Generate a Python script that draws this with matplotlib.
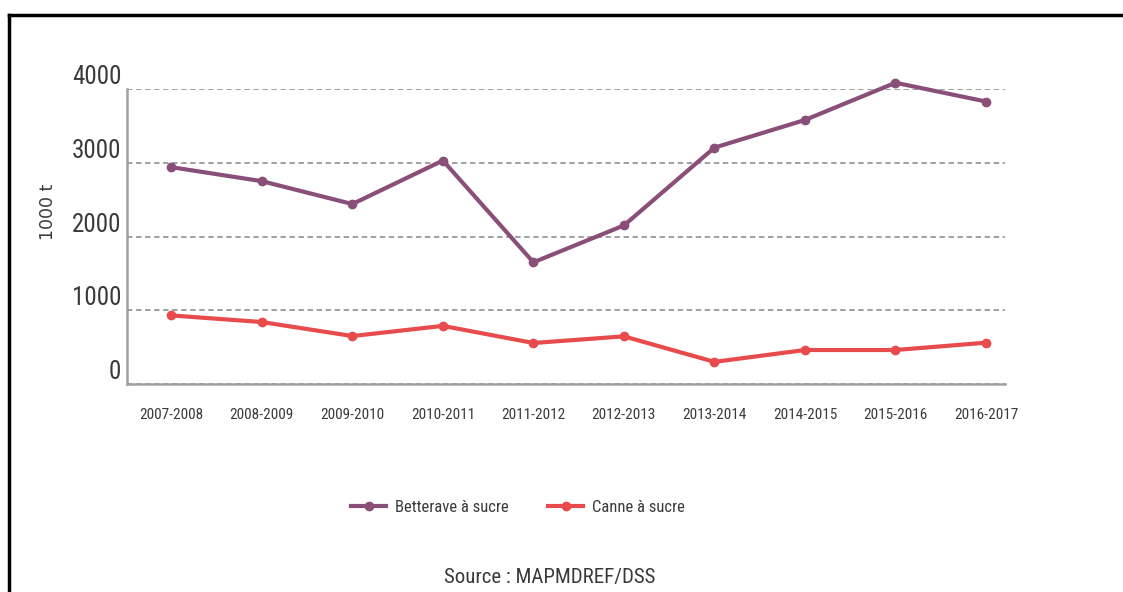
import matplotlib.pyplot as plt
from matplotlib.lines import Line2D
from matplotlib import font_manager

# Data (1000 t)
campagnes = ['2007-2008', '2008-2009', '2009-2010', '2010-2011', '2011-2012',
             '2012-2013', '2013-2014', '2014-2015', '2015-2016', '2016-2017']
betterave = [2940, 2750, 2440, 3030, 1650, 2150, 3205, 3580, 4085, 3830]
canne = [930, 840, 650, 788, 556, 646, 300, 461, 461, 560]
y_ticks = [0, 1000, 2000, 3000, 4000]

purple = '#8a4f78'
red = '#e84b4b'
text_col = '#3a3a3a'

# the original uses a condensed face; take the first narrow one installed
names = {f.name for f in font_manager.fontManager.ttflist}
narrow = 'DejaVu Sans'
for cand in ['Roboto Condensed', 'Liberation Sans Narrow', 'Open Sans Condensed']:
    if cand in names:
        narrow = cand
        break
plt.rcParams['font.family'] = [narrow, 'DejaVu Sans']

fig = plt.figure(figsize=(11.23, 5.92), dpi=100)
W, H = 1123, 592

# frame of the original page (top and left edges visible)
fig.add_artist(Line2D([9 / W, 9 / W], [0, 1 - 15 / H], color='black', lw=2.5,
                      transform=fig.transFigure))
fig.add_artist(Line2D([9 / W, 1], [1 - 15 / H, 1 - 15 / H], color='black', lw=2.5,
                      transform=fig.transFigure))

left, right, top, bottom = 127, 1005, 89, 384
ax = fig.add_axes([left / W, 1 - bottom / H, (right - left) / W, (bottom - top) / H])

x = list(range(len(campagnes)))
ax.plot(x, betterave, color=purple, lw=3, marker='o', ms=6, zorder=3,
        clip_on=False, label='Betterave à sucre')
ax.plot(x, canne, color=red, lw=3, marker='o', ms=6, zorder=3,
        clip_on=False, label='Canne à sucre')

ax.set_xlim(-0.49, 9.21)
ax.set_ylim(25, 4000)
ax.set_yticks(y_ticks)
ax.set_yticklabels([str(v) for v in y_ticks], fontsize=18, color=text_col,
                   va='bottom')
ax.set_xticks(x)
ax.set_xticklabels(campagnes, fontsize=11, color=text_col)
ax.tick_params(axis='y', length=0, pad=4)
ax.tick_params(axis='x', length=0, pad=17)

ax.grid(axis='y', color='#999999', linestyle=(0, (3, 2)), lw=1.3)
ax.set_axisbelow(True)
for s in ['top', 'right']:
    ax.spines[s].set_visible(False)
for s in ['left', 'bottom']:
    ax.spines[s].set_color('#a0a0a0')
    ax.spines[s].set_linewidth(1.8)

ax.set_ylabel('1000 t', fontsize=12.5, color=text_col, family='DejaVu Sans')
ax.yaxis.set_label_coords((57 - left) / (right - left), 0.585)

ax.legend(loc='center', bbox_to_anchor=(518 / W, 1 - 507 / H),
          bbox_transform=fig.transFigure, ncol=2, frameon=False,
          fontsize=12, handlelength=2.1, columnspacing=2.4, handletextpad=0.5,
          labelcolor=text_col)

fig.text(550 / W, 1 - 577 / H, 'Source : MAPMDREF/DSS', ha='center',
         va='center', fontsize=15, color=text_col)

fig.savefig('out.png', dpi=100)
